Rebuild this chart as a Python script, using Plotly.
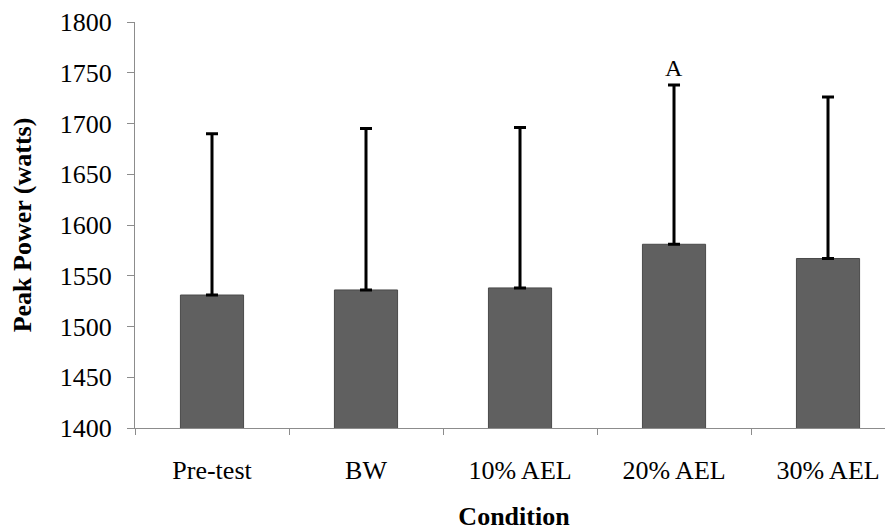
import plotly.graph_objects as go

categories = ["Pre-test", "BW", "10% AEL", "20% AEL", "30% AEL"]
peak_power = [1531, 1536, 1538, 1581, 1567]
sd = [159, 159, 158, 157, 159]
sig_labels = ["", "", "", "A", ""]
y_ticks = [1400, 1450, 1500, 1550, 1600, 1650, 1700, 1750, 1800]

FONT = "Liberation Serif, Times New Roman, serif"

fig = go.Figure()
fig.add_trace(go.Bar(
    x=categories, y=peak_power,
    width=0.41,
    marker=dict(color="#606060", line=dict(color="#4a4a4a", width=1)),
    error_y=dict(type="data", array=sd, symmetric=False, arrayminus=[0]*len(sd),
                 color="black", thickness=3, width=6),
))

for c, v, s, lab in zip(categories, peak_power, sd, sig_labels):
    if lab:
        fig.add_annotation(x=c, y=v + s, text=lab, showarrow=False,
                           yanchor="bottom", yshift=2,
                           font=dict(family=FONT, size=24, color="black"))

fig.update_layout(
    width=885, height=523,
    margin=dict(l=127, r=0, t=12, b=103),
    paper_bgcolor="white", plot_bgcolor="white",
    showlegend=False,
    font=dict(family=FONT, size=26, color="black"),
)
fig.update_xaxes(
    type="category", range=[-0.5, 4.422],
    showline=True, linecolor="#8c8c8c", linewidth=1,
    ticks="outside", tickson="boundaries", ticklen=6, tickcolor="#8c8c8c",
    ticklabelstandoff=19,
    tickfont=dict(family=FONT, size=26),
    showgrid=False, zeroline=False,
    title=dict(text="<b>Condition</b>", font=dict(family=FONT, size=26), standoff=25),
)
fig.update_yaxes(
    range=[1400, 1800], tickvals=y_ticks,
    showline=True, linecolor="#8c8c8c", linewidth=1,
    ticks="outside", ticklen=7, tickcolor="#8c8c8c",
    ticklabelstandoff=10, ticklabeloverflow="allow",
    tickfont=dict(family=FONT, size=26),
    showgrid=False, zeroline=False,
    title=dict(text="<b>Peak Power (watts)</b>", font=dict(family=FONT, size=26), standoff=24),
)

fig.write_html("out.html")
